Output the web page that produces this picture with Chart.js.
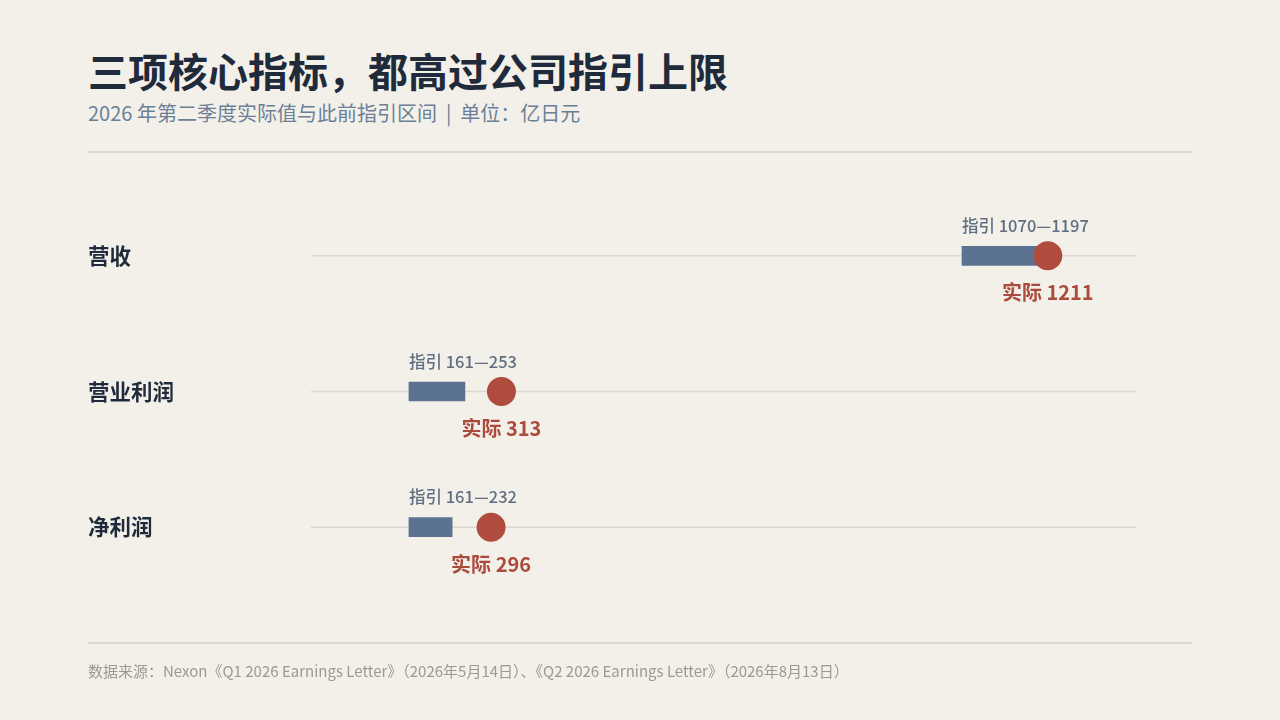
<!DOCTYPE html>
<html lang="zh">
<head>
<meta charset="utf-8">
<title>三项核心指标，都高过公司指引上限</title>
<script src="https://cdn.jsdelivr.net/npm/chart.js@4/dist/chart.umd.min.js"></script>
<style>
  html, body { margin: 0; padding: 0; background: #f3f0ea; }
  body {
    width: 1280px; height: 720px; position: relative; overflow: hidden;
    font-family: "Noto Sans CJK SC", "Noto Sans", sans-serif;
  }
  #chart { position: absolute; left: 0; top: 0; }
  .title {
    position: absolute; left: 88px; top: 44px;
    font-size: 40px; font-weight: 700; line-height: 52px; color: #1f2b3b;
  }
  .subtitle {
    position: absolute; left: 88px; top: 99px;
    font-size: 20px; line-height: 28px; color: #6b7f96;
  }
  .subtitle .sep { margin: 0 9px; }
  .rule { position: absolute; left: 88px; width: 1104px; height: 2px; background: #dcd8d1; }
  .source {
    position: absolute; left: 88px; top: 660px;
    font-size: 15px; line-height: 22px; color: #9b9994;
  }
</style>
</head>
<body>
<div class="title">三项核心指标，都高过公司指引上限</div>
<div class="subtitle">2026 年第二季度实际值与此前指引区间<span class="sep">|</span>单位：亿日元</div>
<div class="rule" style="top:151px"></div>
<canvas id="chart" width="1280" height="720"></canvas>
<div class="rule" style="top:642px"></div>
<div class="source">数据来源：Nexon《Q1 2026 Earnings Letter》（2026年5月14日）、《Q2 2026 Earnings Letter》（2026年8月13日）</div>

<script>
// data (亿日元)
const categories = ['营收', '营业利润', '净利润'];
const guideLow = [1070, 161, 161];
const guideHigh = [1197, 253, 232];
const actual = [1211, 313, 296];
const xMin = 0;
const xMax = 1356;

const FONT = '"Noto Sans CJK SC", "Noto Sans", sans-serif';

// row lines, row names and the value labels
const rowDecor = {
    id: 'rowDecor',
    beforeDatasetsDraw(chart) {
        const { ctx, chartArea, scales: { y } } = chart;
        ctx.save();
        categories.forEach((name, i) => {
            const py = y.getPixelForValue(i);
            ctx.strokeStyle = '#dcd8d1';
            ctx.lineWidth = 1.5;
            ctx.beginPath();
            ctx.moveTo(chartArea.left, py);
            ctx.lineTo(chartArea.right, py);
            ctx.stroke();

            ctx.fillStyle = '#1f2b3b';
            ctx.font = 'bold 21.5px ' + FONT;
            ctx.textAlign = 'left';
            ctx.textBaseline = 'middle';
            ctx.fillText(name, 88, py);
        });
        ctx.restore();
    },
    afterDatasetsDraw(chart) {
        const { ctx, scales: { x, y } } = chart;
        ctx.save();
        ctx.textBaseline = 'middle';
        categories.forEach((name, i) => {
            const py = y.getPixelForValue(i);
            ctx.fillStyle = '#5f6e80';
            ctx.font = '500 16.5px ' + FONT;
            ctx.textAlign = 'left';
            ctx.fillText('指引 ' + guideLow[i] + '—' + guideHigh[i], x.getPixelForValue(guideLow[i]), py - 30);

            ctx.fillStyle = '#ab4b3d';
            ctx.font = 'bold 20px ' + FONT;
            ctx.textAlign = 'center';
            ctx.fillText('实际 ' + actual[i], x.getPixelForValue(actual[i]), py + 37);
        });
        ctx.restore();
    }
};

const ctx = document.getElementById('chart').getContext('2d');
new Chart(ctx, {
    type: 'bar',
    data: {
        labels: categories,
        datasets: [
            {
                type: 'line',
                label: '实际',
                indexAxis: 'y',
                data: actual,
                showLine: false,
                pointRadius: 14.5,
                pointHoverRadius: 14.5,
                pointBackgroundColor: '#b04c3e',
                pointBorderWidth: 0,
                order: 0
            },
            {
                label: '指引区间',
                data: guideLow.map((v, i) => [v, guideHigh[i]]),
                backgroundColor: '#5b7391',
                barThickness: 19,
                order: 1
            }
        ]
    },
    options: {
        indexAxis: 'y',
        responsive: false,
        animation: false,
        events: [],
        layout: { padding: { left: 311, right: 144, top: 188, bottom: 125 } },
        plugins: {
            legend: { display: false },
            tooltip: { enabled: false }
        },
        scales: {
            x: { type: 'linear', min: xMin, max: xMax, display: false },
            y: { type: 'category', offset: true, display: false }
        }
    },
    plugins: [rowDecor]
});
</script>
</body>
</html>
